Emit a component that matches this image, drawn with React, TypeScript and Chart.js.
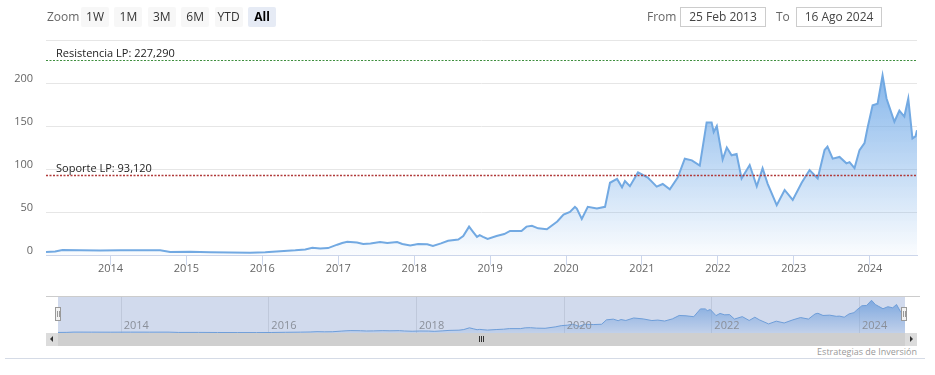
import React, { useEffect, useRef } from 'react';
import { Chart, registerables } from 'chart.js';

Chart.register(...registerables);

const FONT = '"Open Sans", "DejaVu Sans", sans-serif';

// ---- data ----
const dates = [
  '2013-02-25', '2013-04-10', '2013-05-15', '2013-08-09', '2013-11-13',
  '2014-02-18', '2014-05-25', '2014-08-28', '2014-10-15', '2015-01-20',
  '2015-04-25', '2015-07-31', '2015-11-03', '2016-01-15', '2016-03-27',
  '2016-06-08', '2016-07-26', '2016-08-29', '2016-10-06', '2016-11-13',
  '2016-12-27', '2017-01-20', '2017-02-13', '2017-04-01', '2017-05-01',
  '2017-06-05', '2017-07-21', '2017-08-25', '2017-10-11', '2017-11-05',
  '2017-12-13', '2018-01-20', '2018-03-05', '2018-04-01', '2018-05-10',
  '2018-06-13', '2018-08-01', '2018-08-25', '2018-09-22', '2018-10-11',
  '2018-10-30', '2018-11-12', '2018-11-28', '2018-12-20', '2019-02-01',
  '2019-03-10', '2019-04-07', '2019-06-01', '2019-06-25', '2019-07-21',
  '2019-08-20', '2019-10-01', '2019-11-20', '2019-12-20', '2020-01-20',
  '2020-02-13', '2020-02-22', '2020-03-17', '2020-04-15', '2020-05-29',
  '2020-07-07', '2020-07-31', '2020-09-03', '2020-09-27', '2020-10-11',
  '2020-11-04', '2020-12-13', '2021-01-29', '2021-03-13', '2021-04-11',
  '2021-05-15', '2021-06-22', '2021-07-26', '2021-08-29', '2021-10-06',
  '2021-11-08', '2021-12-02', '2021-12-12', '2021-12-27', '2022-01-24',
  '2022-02-13', '2022-03-08', '2022-04-01', '2022-04-25', '2022-06-03',
  '2022-07-07', '2022-08-04', '2022-08-28', '2022-10-11', '2022-11-18',
  '2022-12-27', '2023-02-08', '2023-03-18', '2023-04-26', '2023-05-29',
  '2023-06-12', '2023-07-07', '2023-08-09', '2023-09-11', '2023-09-26',
  '2023-10-20', '2023-11-13', '2023-12-07', '2023-12-21', '2024-01-15',
  '2024-02-08', '2024-03-03', '2024-03-22', '2024-04-05', '2024-04-29',
  '2024-05-23', '2024-06-16', '2024-07-05', '2024-07-25', '2024-08-09',
  '2024-08-16',
];

const prices = [
  3.5, 4, 5.8, 5.5, 5.2,
  5.6, 5.4, 5.5, 3.6, 3.8,
  3.2, 2.8, 2.7, 3.2, 4.5,
  5.5, 6.5, 8.5, 7.5, 8,
  12, 14, 15.3, 14.5, 12.8,
  13.5, 15, 14, 15, 12.8,
  11.2, 12.8, 12.4, 10.5, 13.5,
  16.6, 18, 22, 33, 27,
  21, 23, 21, 18.6, 22,
  24.4, 28, 28, 33, 34,
  31, 30, 39, 47, 50,
  56, 54, 42, 56, 54,
  56, 84, 88.5, 78.7, 86,
  80, 96, 90, 79.5, 82.6,
  76.4, 90, 112, 110, 104,
  154, 154, 143, 150, 111,
  125, 116, 117.4, 89, 104.6,
  80, 100.8, 83, 58, 75.6,
  64, 84, 98.8, 89, 122,
  126, 112, 114, 106.6, 108,
  101, 122, 130, 147, 174,
  176, 209, 182, 172, 155,
  168, 161, 182, 135.6, 138,
  145,
];

const yTickValues = [0, 50, 100, 150, 200, 250];
const xTickYears = [2014, 2015, 2016, 2017, 2018, 2019, 2020, 2021, 2022, 2023, 2024];
const navigatorYears = [2014, 2016, 2018, 2020, 2022, 2024];
const zoomButtons = ['1W', '1M', '3M', '6M', 'YTD', 'All'];
const selectedZoom = 'All';
const rangeFrom = '25 Feb 2013';
const rangeTo = '16 Ago 2024';
const resistanceLabel = 'Resistencia LP';
const resistanceValue = 227.29;
const supportLabel = 'Soporte LP';
const supportValue = 93.12;
const creditsText = 'Estrategias de Inversión';

function toFractionalYear(d: string): number {
  const [y, m, dd] = d.split('-').map(Number);
  const start = Date.UTC(y, 0, 1);
  const end = Date.UTC(y + 1, 0, 1);
  return y + (Date.UTC(y, m - 1, dd) - start) / (end - start);
}

const points = dates.map((d, i) => ({ x: toFractionalYear(d), y: prices[i] }));
const X_MIN = points[0].x;
const X_MAX = points[points.length - 1].x;

const fmt = (v: number) => v.toFixed(3).replace('.', ',');

const plotLines = [
  { value: resistanceValue, label: resistanceLabel, color: '#3f8f3f', width: 1, dash: [2, 1.5] },
  { value: supportValue, label: supportLabel, color: '#b03a3a', width: 1.5, dash: [2, 1.5] },
];

const plotLinesPlugin = {
  id: 'plotLines',
  afterDatasetsDraw(chart: any) {
    const { ctx, chartArea, scales } = chart;
    const y = scales.y;
    ctx.save();
    for (const pl of plotLines) {
      const py = Math.round(y.getPixelForValue(pl.value)) + 0.5;
      ctx.beginPath();
      ctx.setLineDash(pl.dash);
      ctx.strokeStyle = pl.color;
      ctx.lineWidth = pl.width;
      ctx.moveTo(chartArea.left, py);
      ctx.lineTo(chartArea.right, py);
      ctx.stroke();
      ctx.setLineDash([]);
      ctx.fillStyle = '#222';
      ctx.font = `11px ${FONT}`;
      ctx.textAlign = 'left';
      ctx.textBaseline = 'alphabetic';
      ctx.fillText(`${pl.label}: ${fmt(pl.value)}`, chartArea.left + 10, py - 3.5);
    }
    ctx.restore();
  },
};

const navPlugin = {
  id: 'navDecor',
  beforeDatasetsDraw(chart: any) {
    const { ctx, chartArea, scales } = chart;
    ctx.save();
    ctx.fillStyle = '#ffffff';
    ctx.fillRect(chartArea.left, chartArea.top, chartArea.right - chartArea.left, chartArea.bottom - chartArea.top);
    ctx.strokeStyle = '#e6e6e6';
    ctx.lineWidth = 1;
    for (const yr of navigatorYears) {
      const px = Math.round(scales.x.getPixelForValue(yr)) + 0.5;
      ctx.beginPath();
      ctx.moveTo(px, chartArea.top);
      ctx.lineTo(px, chartArea.bottom);
      ctx.stroke();
    }
    ctx.restore();
  },
  afterDatasetsDraw(chart: any) {
    const { ctx, chartArea, scales } = chart;
    ctx.save();
    ctx.fillStyle = 'rgba(102,133,194,0.3)';
    ctx.fillRect(chartArea.left, chartArea.top, chartArea.right - chartArea.left, chartArea.bottom - chartArea.top);
    ctx.fillStyle = '#8a8f99';
    ctx.font = `11px ${FONT}`;
    ctx.textAlign = 'left';
    ctx.textBaseline = 'alphabetic';
    for (const yr of navigatorYears) {
      const px = scales.x.getPixelForValue(yr);
      ctx.fillText(String(yr), px + 3, chartArea.bottom - 4);
    }
    ctx.restore();
  },
};

function areaGradient(context: any, a0: number, a1: number) {
  const { chart } = context;
  const { ctx, chartArea } = chart;
  if (!chartArea) return 'rgba(105,165,230,0.4)';
  const g = ctx.createLinearGradient(0, chartArea.top, 0, chartArea.bottom);
  g.addColorStop(0, `rgba(105,165,230,${a0})`);
  g.addColorStop(1, `rgba(105,165,230,${a1})`);
  return g;
}

export default function App() {
  const mainRef = useRef<HTMLCanvasElement>(null);
  const navRef = useRef<HTMLCanvasElement>(null);

  useEffect(() => {
    const main = new Chart(mainRef.current as HTMLCanvasElement, {
      type: 'line',
      data: {
        datasets: [
          {
            data: points,
            borderColor: '#72a9e2',
            borderWidth: 2,
            pointRadius: 0,
            tension: 0,
            fill: 'origin',
            backgroundColor: (c: any) => areaGradient(c, 0.95, 0.03),
          },
        ],
      },
      options: {
        animation: false,
        responsive: false,
        maintainAspectRatio: false,
        layout: { padding: { left: 0, right: 18, top: 40, bottom: 0 } },
        plugins: { legend: { display: false }, tooltip: { enabled: false } },
        scales: {
          x: {
            type: 'linear',
            min: X_MIN,
            max: X_MAX,
            afterBuildTicks: (s: any) => {
              s.ticks = xTickYears.map((v) => ({ value: v }));
            },
            afterFit: (s: any) => {
              s.height = 25;
            },
            grid: { drawOnChartArea: false, drawTicks: true, tickLength: 10, color: '#ccd6eb' },
            border: { color: '#ccd6eb' },
            ticks: {
              autoSkip: false,
              maxRotation: 0,
              padding: -3,
              color: '#666',
              font: { family: FONT, size: 11 },
              callback: (v: any) => String(v),
            },
          },
          y: {
            min: 0,
            max: 250,
            afterBuildTicks: (s: any) => {
              s.ticks = yTickValues.map((v) => ({ value: v }));
            },
            afterFit: (s: any) => {
              s.width = 46;
            },
            grid: { color: '#e6e6e6', drawTicks: false },
            border: { display: false },
            ticks: {
              padding: 13,
              labelOffset: -4,
              color: '#666',
              font: { family: FONT, size: 11 },
              callback: (v: any) => (v === 250 ? '' : String(v)),
            },
          },
        },
      } as any,
      plugins: [plotLinesPlugin],
    });

    const nav = new Chart(navRef.current as HTMLCanvasElement, {
      type: 'line',
      data: {
        datasets: [
          {
            data: points,
            borderColor: '#72a9e2',
            borderWidth: 1,
            pointRadius: 0,
            tension: 0,
            fill: 'origin',
            backgroundColor: (c: any) => areaGradient(c, 0.85, 0.15),
          },
        ],
      },
      options: {
        animation: false,
        responsive: false,
        maintainAspectRatio: false,
        layout: { padding: 0 },
        plugins: { legend: { display: false }, tooltip: { enabled: false } },
        scales: {
          x: { type: 'linear', min: X_MIN, max: X_MAX, display: false },
          y: { min: 0, max: 230, display: false },
        },
      } as any,
      plugins: [navPlugin],
    });

    return () => {
      main.destroy();
      nav.destroy();
    };
  }, []);

  const text: React.CSSProperties = { position: 'absolute', fontFamily: FONT, whiteSpace: 'nowrap' };

  return (
    <div style={{ position: 'fixed', left: 0, top: 0, width: 935, height: 375, background: '#fff', overflow: 'hidden' }}>
      <canvas ref={mainRef} width={935} height={280} style={{ position: 'absolute', left: 0, top: 0, width: 935, height: 280 }} />

      {/* range selector */}
      <div style={{ ...text, left: 47, top: 9, fontSize: 12, color: '#666', lineHeight: '16px' }}>Zoom</div>
      {zoomButtons.map((b, i) => (
        <div
          key={b}
          style={{
            ...text,
            left: 81 + i * 33.4,
            top: 7,
            width: 28,
            height: 20,
            lineHeight: '20px',
            textAlign: 'center',
            fontSize: 12,
            borderRadius: 2,
            background: b === selectedZoom ? '#e6ebf5' : '#f7f7f7',
            color: b === selectedZoom ? '#000' : '#333',
            fontWeight: b === selectedZoom ? 700 : 400,
          }}
        >
          {b}
        </div>
      ))}
      <div style={{ ...text, left: 647, top: 9, fontSize: 12, color: '#666', lineHeight: '16px' }}>From</div>
      <div
        style={{
          ...text,
          left: 680,
          top: 7,
          width: 84,
          height: 18,
          lineHeight: '18px',
          border: '1px solid #cccccc',
          textAlign: 'center',
          fontSize: 12,
          color: '#444',
        }}
      >
        {rangeFrom}
      </div>
      <div style={{ ...text, left: 776, top: 9, fontSize: 12, color: '#666', lineHeight: '16px' }}>To</div>
      <div
        style={{
          ...text,
          left: 796,
          top: 7,
          width: 84,
          height: 18,
          lineHeight: '18px',
          border: '1px solid #cccccc',
          textAlign: 'center',
          fontSize: 12,
          color: '#444',
        }}
      >
        {rangeTo}
      </div>

      {/* navigator */}
      <div style={{ position: 'absolute', left: 46, top: 296, width: 874, height: 1, background: '#cccccc' }} />
      <canvas ref={navRef} width={847} height={36} style={{ position: 'absolute', left: 58, top: 297, width: 847, height: 36 }} />
      {[55, 901].map((x) => (
        <div
          key={x}
          style={{
            position: 'absolute',
            left: x,
            top: 307,
            width: 6,
            height: 14,
            background: '#f2f2f2',
            border: '1px solid #999',
            boxSizing: 'border-box',
          }}
        >
          <div style={{ position: 'absolute', left: 1, top: 3, width: 1, height: 6, background: '#999' }} />
          <div style={{ position: 'absolute', left: 3, top: 3, width: 1, height: 6, background: '#999' }} />
        </div>
      ))}

      {/* scrollbar */}
      <div style={{ position: 'absolute', left: 46, top: 333, width: 871, height: 13, background: '#f2f2f2' }} />
      <div style={{ position: 'absolute', left: 58, top: 333, width: 847, height: 13, background: '#cfcfcf' }} />
      <div style={{ position: 'absolute', left: 46, top: 333, width: 12, height: 13, background: '#dcdcdc' }} />
      <div style={{ position: 'absolute', left: 905, top: 333, width: 12, height: 13, background: '#dcdcdc' }} />
      <div
        style={{
          position: 'absolute',
          left: 50,
          top: 336,
          width: 0,
          height: 0,
          borderTop: '3px solid transparent',
          borderBottom: '3px solid transparent',
          borderRight: '3px solid #333',
        }}
      />
      <div
        style={{
          position: 'absolute',
          left: 910,
          top: 336,
          width: 0,
          height: 0,
          borderTop: '3px solid transparent',
          borderBottom: '3px solid transparent',
          borderLeft: '3px solid #333',
        }}
      />
      {[479, 481, 483].map((x) => (
        <div key={x} style={{ position: 'absolute', left: x, top: 336, width: 1, height: 6, background: '#333' }} />
      ))}

      {/* credits */}
      <div style={{ ...text, right: 935 - 917, top: 346, fontSize: 9, color: '#999', lineHeight: '12px' }}>{creditsText}</div>
      <div style={{ position: 'absolute', left: 5, top: 358, width: 920, height: 1, background: '#d5dbe6' }} />
    </div>
  );
}
